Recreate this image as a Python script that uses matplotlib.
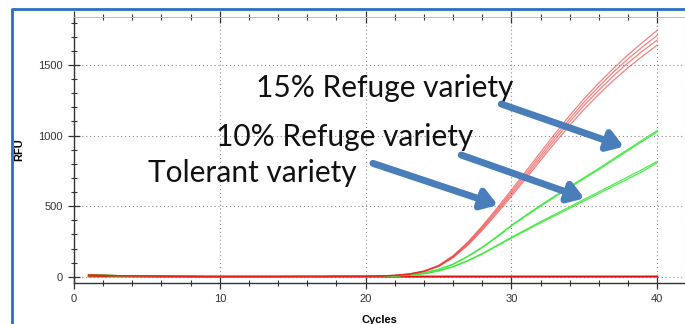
import matplotlib
matplotlib.use('Agg')
import matplotlib.pyplot as plt
from matplotlib.lines import Line2D
from matplotlib.ticker import MultipleLocator
import numpy as np

# cycle numbers
cycles = np.arange(1, 41)

# shared pre-amplification part (cycles 1-19)
early = [12, 10, 8, 6, 5, 4, 3, 3, 2, 2, 2, 2, 2, 2, 2, 2, 2, 3, 3]

# tolerant variety replicates (cycles 20-40)
tolerant_1 = [3, 6, 11, 21, 41, 80, 150, 245, 360, 485, 615, 748, 882, 1015, 1143, 1263, 1373, 1476, 1572, 1660, 1745]
tolerant_2 = [3, 5, 10, 20, 40, 78, 145, 238, 350, 472, 600, 730, 862, 994, 1120, 1239, 1348, 1450, 1543, 1629, 1710]
tolerant_3 = [3, 5, 10, 19, 38, 75, 140, 230, 340, 460, 585, 713, 843, 973, 1098, 1215, 1323, 1423, 1515, 1599, 1676]
tolerant_4 = [3, 5, 9, 18, 36, 72, 135, 222, 330, 447, 570, 696, 824, 951, 1073, 1188, 1293, 1391, 1481, 1563, 1640]

# 15% refuge variety replicates
refuge15_1 = [2, 4, 7, 13, 27, 52, 90, 145, 210, 285, 365, 437, 507, 574, 639, 703, 768, 836, 903, 970, 1036]
refuge15_2 = [2, 4, 7, 13, 26, 51, 88, 143, 207, 281, 360, 431, 500, 567, 632, 696, 760, 827, 894, 960, 1026]

# 10% refuge variety replicates
refuge10_1 = [2, 3, 6, 11, 22, 42, 72, 115, 165, 222, 280, 335, 390, 443, 496, 549, 602, 655, 708, 761, 818]
refuge10_2 = [2, 3, 6, 11, 21, 41, 70, 112, 161, 217, 274, 328, 382, 434, 486, 538, 590, 642, 694, 746, 808]

# no-template baselines
ntc_red = [8, 6, 5, 4, 3, 2, 2, 1, 1, 1, 1, 1, 1, 1, 1, 1, 1, 1, 1, 1,
           1, 1, 1, 1, 1, 1, 1, 1, 1, 1, 1, 1, 1, 1, 1, 1, 1, 1, 1, 1]
ntc_olive = [0, 0, 0, 0, 0, 0, 0, 0, 0, 0, 0, 0, 0, 0, 2, 2, 2, 2, 2, 2,
             2, 2, 2, 2, 2, 2, 2, 2, 2, 2, 2, 2, 2, 2, 2, 2, 2, 2, 2, 3]

labels = ['15% Refuge variety', '10% Refuge variety', 'Tolerant variety']

fig = plt.figure(figsize=(6.85, 3.24), dpi=100)
ax = fig.add_axes([74 / 685, 1 - 282.7 / 324, 1 - 74 / 685, (282.7 - 17.3) / 324])

ax.plot(cycles, ntc_olive, color='#9c9a1e', lw=1.2)
ax.plot(cycles, ntc_red, color='#e01010', lw=1.3)

for g in [refuge15_1, refuge15_2, refuge10_1, refuge10_2]:
    ax.plot(cycles, early + g, color='#3ee83e', lw=0.9, alpha=0.9)

for r in [tolerant_1, tolerant_2, tolerant_3, tolerant_4]:
    ax.plot(cycles, early + r, color='#ee1c1c', lw=0.9, alpha=0.55)

ax.set_xlim(0, 41.9)
ax.set_ylim(-42, 1837)

ax.xaxis.set_major_locator(MultipleLocator(10))
ax.xaxis.set_minor_locator(MultipleLocator(2))
ax.yaxis.set_major_locator(MultipleLocator(500))
ax.yaxis.set_minor_locator(MultipleLocator(100))

ax.grid(True, which='major', color='#8a8a8a', linestyle=(0, (1, 2.5)), lw=0.8)
ax.set_axisbelow(True)

for s in ['left', 'bottom']:
    ax.spines[s].set_color('#333333')
    ax.spines[s].set_linewidth(1.0)
ax.spines['top'].set_color('#bbbbbb')
ax.spines['top'].set_linewidth(0.7)
ax.spines['right'].set_color('#aaaaaa')
ax.spines['right'].set_linestyle((0, (1, 2.5)))

ax.tick_params(which='major', direction='inout', length=8, width=0.9, color='#333333',
               labelsize=8, labelcolor='#333333', top=True, pad=4)
ax.tick_params(which='minor', direction='inout', length=5, width=0.8, color='#333333', top=True)
ax.tick_params(axis='x', which='both', labeltop=False)
for t in ax.get_xticklabels() + ax.get_yticklabels():
    t.set_family('Liberation Sans')

ax.set_xlabel('Cycles', fontsize=8, fontweight='bold', family='Liberation Sans', labelpad=8)
ax.set_ylabel('RFU', fontsize=8, fontweight='bold', family='Liberation Sans', labelpad=10)

# annotations
text_pos = [(21.33, 1336), (18.53, 989), (12.23, 734)]
arrow_from = [(29.3, 1223), (26.55, 862), (20.5, 803)]
arrow_to = [(37.7, 921), (35.0, 555), (29.06, 508)]

for lab, tp in zip(labels, text_pos):
    ax.text(tp[0], tp[1], lab, fontsize=21.5, family='Lato', ha='center', va='center', color='#111111')

for a, b in zip(arrow_from, arrow_to):
    ax.annotate('', xy=b, xytext=a,
                arrowprops=dict(arrowstyle='-|>,head_length=0.9,head_width=0.6',
                                color='#4a7ebb', lw=5, shrinkA=0, shrinkB=0))

# blue frame
fig.add_artist(Line2D([12 / 685, 12 / 685, 1.0], [0.0, 1 - 9 / 324, 1 - 9 / 324],
                      transform=fig.transFigure, color='#2a6fc4', lw=2.0))

fig.savefig('out.png', dpi=100)
